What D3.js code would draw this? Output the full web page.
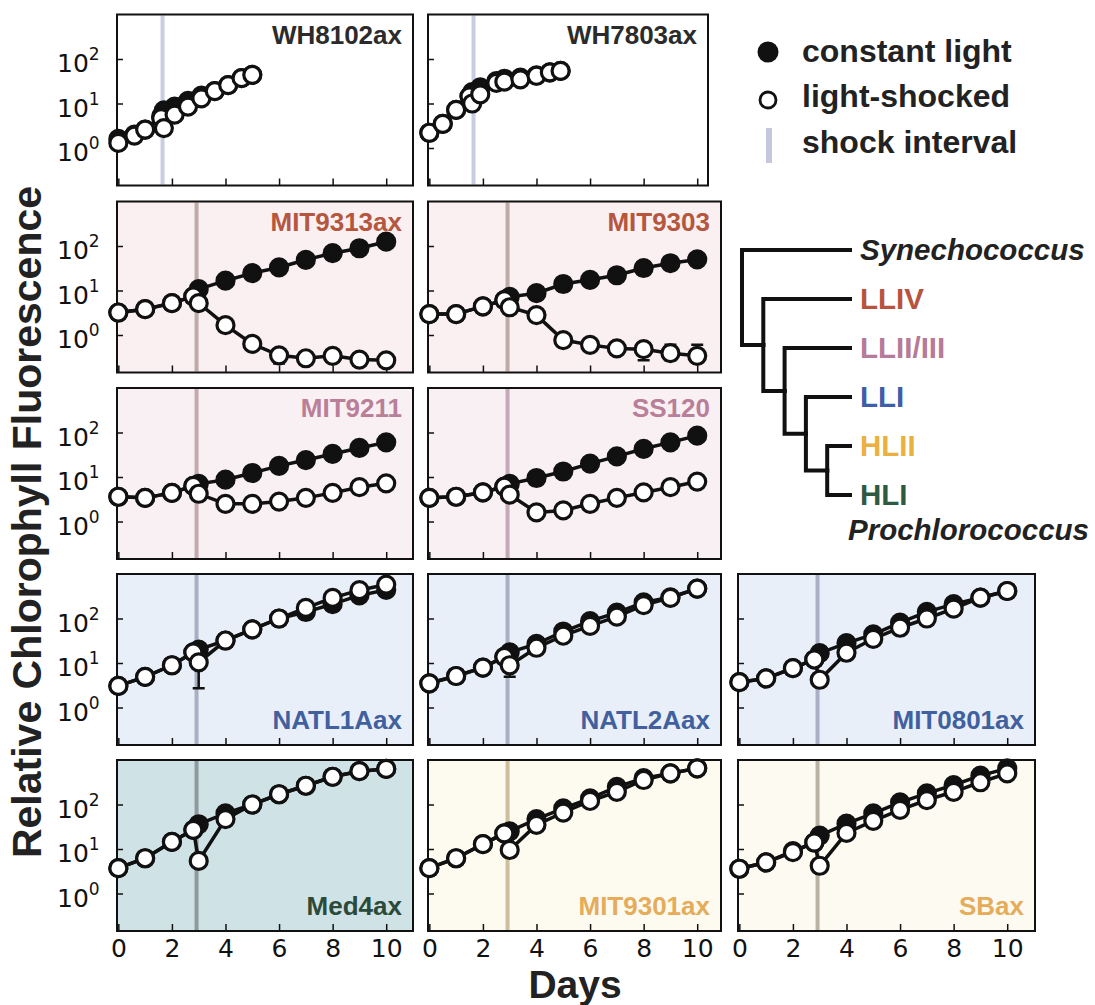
<!DOCTYPE html>
<html>
<head>
<meta charset="utf-8">
<script src="https://cdn.jsdelivr.net/npm/d3@7"></script>
<style>
	body { margin: 0; background: #fff; }
	text { font-family: "Liberation Sans", Arial, sans-serif; }
	.tick-num { font-family: "DejaVu Sans", sans-serif; }
</style>
</head>
<body>
<svg id="chart" width="1095" height="1005"></svg>
<script>
'use strict';

//Sampling days
var wh8102Days = [0, 0.6, 1.0, 1.6, 1.7, 2.1, 2.6, 3.1, 3.6, 4.1, 4.6, 5.0];
var wh7803Days = [0, 0.5, 1.0, 1.5, 1.6, 1.9, 2.5, 2.8, 3.4, 4.0, 4.5, 4.9];
var proDays = [0, 1, 2, 2.8, 3, 4, 5, 6, 7, 8, 9, 10];

//Relative chlorophyll fluorescence, constant light (filled) and light-shocked (open)
var wh8102Constant = [1.6, 2.0, 2.6, 5.2, 7.0, 8.5, 11.5, 15, 19, 26, 37, 44];
var wh8102Shocked  = [1.3, 1.9, 2.6, 4.7, 2.8, 5.6, 8.5, 13, 19, 26, 37, 44];
var wh7803Constant = [2.2, 3.5, 7.2, 14.5, 18, 23, 32, 36, 38, 43, 50, 54];
var wh7803Shocked  = [2.2, 3.5, 7.2, 14.5, 10, 16, 29, 31, 35, 42, 50, 54];
var mit9313Constant = [3.2, 3.8, 5.2, 7.4, 10.7, 16.6, 24.6, 33, 49, 69, 89, 125];
var mit9313Shocked  = [3.2, 3.8, 5.2, 7.4, 5.2, 1.66, 0.63, 0.35, 0.30, 0.34, 0.28, 0.27];
var mit9303Constant = [2.95, 2.95, 4.4, 6.1, 7.2, 8.7, 14, 17.4, 22, 32, 41, 50];
var mit9303Shocked  = [2.95, 2.95, 4.4, 6.1, 4.2, 2.8, 0.77, 0.60, 0.50, 0.48, 0.39, 0.34];
var mit9211Constant = [3.6, 3.4, 4.4, 6.3, 7.0, 8.7, 12.3, 17.8, 24, 33, 45, 60];
var mit9211Shocked  = [3.6, 3.4, 4.4, 6.3, 4.2, 2.5, 2.5, 2.8, 3.4, 4.4, 5.9, 7.2];
var ss120Constant = [3.4, 3.6, 4.5, 6.1, 7.0, 9.5, 13.3, 20, 29, 43, 60, 85];
var ss120Shocked  = [3.4, 3.6, 4.5, 6.1, 4.0, 1.6, 1.77, 2.5, 3.4, 4.5, 5.9, 7.9];
var natl1aConstant = [3.06, 4.9, 8.9, 17.4, 20, 32, 57, 100, 140, 210, 330, 440];
var natl1aShocked  = [3.06, 4.9, 8.9, 17.4, 10.3, 32, 57, 100, 173, 290, 433, 580];
var natl2aConstant = [3.5, 5.1, 7.9, 13.8, 17.4, 27, 51, 87, 135, 230, 300, 470];
var natl2aShocked  = [3.5, 5.1, 7.9, 13.8, 8.9, 22, 41, 68, 110, 200, 290, 470];
var mit0801Constant = [3.7, 4.5, 7.7, 12, 16.6, 28, 44, 81, 141, 210, 293, 415];
var mit0801Shocked  = [3.7, 4.5, 7.7, 12, 4.2, 17, 35, 62, 100, 166, 293, 415];
var med4Constant = [3.7, 6.2, 14.5, 27, 36, 63, 100, 170, 264, 420, 560, 630];
var med4Shocked  = [3.7, 6.2, 14.5, 27, 5.4, 47, 100, 170, 264, 420, 560, 630];
var mit9301Constant = [3.7, 6.2, 12.9, 22.5, 25, 47, 82, 138, 250, 390, 500, 650];
var mit9301Shocked  = [3.7, 6.2, 12.9, 22.5, 9.5, 35, 66, 120, 193, 355, 500, 650];
var sbConstant = [3.6, 5.0, 9.0, 14, 20, 37, 63, 112, 178, 274, 445, 650];
var sbShocked  = [3.6, 5.0, 8.5, 14, 4.2, 23, 43, 76, 126, 193, 316, 500];

//Error bars (day, low, high)
var errorBars = [
	{ strain: "MIT9313ax", series: "shocked", day: 6, lo: 0.23, hi: 0.42 },
	{ strain: "MIT9313ax", series: "shocked", day: 8, lo: 0.28, hi: 0.48 },
	{ strain: "MIT9303", series: "shocked", day: 8, lo: 0.27, hi: 0.6 },
	{ strain: "MIT9303", series: "shocked", day: 9, lo: 0.27, hi: 0.6 },
	{ strain: "MIT9303", series: "shocked", day: 10, lo: 0.24, hi: 0.6 },
	{ strain: "NATL1Aax", series: "shocked", day: 3, lo: 2.7, hi: 17 },
	{ strain: "NATL1Aax", series: "constant", day: 9, lo: 250, hi: 420 },
	{ strain: "NATL1Aax", series: "constant", day: 10, lo: 340, hi: 560 },
	{ strain: "NATL2Aax", series: "shocked", day: 3, lo: 4.9, hi: 12 }
];

//Shock times
var whShockDay = 1.65;
var proShockDay = 2.92;

//Axis ticks
var xTicks = [0, 2, 4, 6, 8, 10];
var yTickExps = [0, 1, 2];

//Tree of clades
var cladeTree = {
	children: [
		{ name: "Synechococcus" },
		{ children: [
			{ name: "LLIV" },
			{ children: [
				{ name: "LLII/III" },
				{ children: [
					{ name: "LLI" },
					{ children: [ { name: "HLII" }, { name: "HLI" } ] }
				] }
			] }
		] }
	]
};

//Panels
var panels = [
	{ strain: "WH8102ax", row: 0, col: 0, days: wh8102Days, constant: wh8102Constant, shocked: wh8102Shocked, shock: whShockDay },
	{ strain: "WH7803ax", row: 0, col: 1, days: wh7803Days, constant: wh7803Constant, shocked: wh7803Shocked, shock: whShockDay },
	{ strain: "MIT9313ax", row: 1, col: 0, days: proDays, constant: mit9313Constant, shocked: mit9313Shocked, shock: proShockDay },
	{ strain: "MIT9303", row: 1, col: 1, days: proDays, constant: mit9303Constant, shocked: mit9303Shocked, shock: proShockDay },
	{ strain: "MIT9211", row: 2, col: 0, days: proDays, constant: mit9211Constant, shocked: mit9211Shocked, shock: proShockDay },
	{ strain: "SS120", row: 2, col: 1, days: proDays, constant: ss120Constant, shocked: ss120Shocked, shock: proShockDay },
	{ strain: "NATL1Aax", row: 3, col: 0, days: proDays, constant: natl1aConstant, shocked: natl1aShocked, shock: proShockDay },
	{ strain: "NATL2Aax", row: 3, col: 1, days: proDays, constant: natl2aConstant, shocked: natl2aShocked, shock: proShockDay },
	{ strain: "MIT0801ax", row: 3, col: 2, days: proDays, constant: mit0801Constant, shocked: mit0801Shocked, shock: proShockDay },
	{ strain: "Med4ax", row: 4, col: 0, days: proDays, constant: med4Constant, shocked: med4Shocked, shock: proShockDay },
	{ strain: "MIT9301ax", row: 4, col: 1, days: proDays, constant: mit9301Constant, shocked: mit9301Shocked, shock: proShockDay },
	{ strain: "SBax", row: 4, col: 2, days: proDays, constant: sbConstant, shocked: sbShocked, shock: proShockDay }
];

//Styles
var panelStyle = {
	"WH8102ax":  { bg: "#ffffff", fg: "#2b2b2b", shock: "#c9cde2" },
	"WH7803ax":  { bg: "#ffffff", fg: "#2b2b2b", shock: "#c9cde2" },
	"MIT9313ax": { bg: "#faeff1", fg: "#b5563f", shock: "#bfaaa6" },
	"MIT9303":   { bg: "#faeff1", fg: "#b5563f", shock: "#bfaaa6" },
	"MIT9211":   { bg: "#f9f0f3", fg: "#b97f98", shock: "#c2aaae" },
	"SS120":     { bg: "#f9f0f3", fg: "#b97f98", shock: "#c2aab6" },
	"NATL1Aax":  { bg: "#e8eff8", fg: "#41609f", shock: "#a9b0c6" },
	"NATL2Aax":  { bg: "#e8eff8", fg: "#41609f", shock: "#a9b0c6" },
	"MIT0801ax": { bg: "#e8eff8", fg: "#41609f", shock: "#a9b0c6" },
	"Med4ax":    { bg: "#cfe3e6", fg: "#2c4a3a", shock: "#8f9a9c" },
	"MIT9301ax": { bg: "#fdfbef", fg: "#e5ac5c", shock: "#cdbf9c" },
	"SBax":      { bg: "#fdfbf1", fg: "#e5ac5c", shock: "#b8b2a4" }
};
var cladeColors = {
	"Synechococcus": "#222", "LLIV": "#b7543e", "LLII/III": "#b57b98",
	"LLI": "#3f5ea8", "HLII": "#eab042", "HLI": "#2e5a44"
};

var colLeft = [117, 428, 738];
var colRight = [413, 721, 1035];
var rowTop = [14.5, 201.5, 388, 574, 760];
var panelHeight = 171;
var scaleWidth = 296;

var svg = d3.select("#chart");

panels.forEach(function(p) {
	var style = panelStyle[p.strain];
	var left = colLeft[p.col];
	var right = (p.row == 0 && p.col == 1) ? 708 : colRight[p.col];
	var top = rowTop[p.row];
	var bottom = top + panelHeight;

	var x = d3.scaleLinear().domain([-0.05, 11]).range([left, left + scaleWidth]);
	var y = d3.scaleLog().domain([Math.pow(10, 3 - panelHeight / 44.5), 1000]).range([bottom, top]);

	var g = svg.append("g").attr("class", "panel");

	g.append("rect")
		.attr("x", left).attr("y", top)
		.attr("width", right - left).attr("height", panelHeight)
		.attr("fill", style.bg);

	//Shock interval
	g.append("line")
		.attr("x1", x(p.shock)).attr("x2", x(p.shock))
		.attr("y1", top + 1).attr("y2", bottom - 1)
		.attr("stroke", style.shock).attr("stroke-width", 4);

	//Axes with inward ticks
	var xAxis = d3.axisBottom(x).tickValues(xTicks).tickSizeInner(-7).tickSizeOuter(0).tickPadding(8)
		.tickFormat(p.row == 4 ? d3.format("d") : "");
	var xg = g.append("g").attr("transform", "translate(0," + bottom + ")").call(xAxis);
	xg.select(".domain").remove();
	xg.selectAll("line").attr("stroke", "#111").attr("stroke-width", 1.5);
	xg.selectAll("text").attr("class", "tick-num").attr("font-size", 25).attr("fill", "#111");

	var yAxis = d3.axisLeft(y).tickValues(yTickExps.map(function(e) { return Math.pow(10, e); }))
		.tickSizeInner(-6).tickSizeOuter(0).tickFormat("");
	var yg = g.append("g").attr("transform", "translate(" + left + ",0)").call(yAxis);
	yg.select(".domain").remove();
	yg.selectAll("line").attr("stroke", "#111").attr("stroke-width", 1.5);

	if(p.col == 0) {
		yTickExps.forEach(function(e) {
			var t = g.append("text").attr("class", "tick-num")
				.attr("x", 57).attr("y", y(Math.pow(10, e)) + 13)
				.attr("font-size", 25).attr("fill", "#111");
			t.append("tspan").text("10");
			t.append("tspan").attr("font-size", 17).attr("dy", -12).text(e);
		});
	}

	//Frame
	g.append("rect")
		.attr("x", left).attr("y", top)
		.attr("width", right - left).attr("height", panelHeight)
		.attr("fill", "none").attr("stroke", "#111").attr("stroke-width", 2);

	var line = d3.line()
		.x(function(d) { return x(d.day); })
		.y(function(d) { return y(d.value); });

	var drawSeries = function(values, filled, key) {
		var pts = values.map(function(v, i) { return { day: p.days[i], value: v }; });

		g.append("path").datum(pts)
			.attr("d", line)
			.attr("fill", "none").attr("stroke", "#111").attr("stroke-width", 3.5);

		errorBars.filter(function(e) { return e.strain == p.strain && e.series == key; })
			.forEach(function(e) {
				var ex = x(e.day);
				g.append("path")
					.attr("d", "M" + ex + "," + y(e.lo) + "V" + y(e.hi) +
						"M" + (ex - 6) + "," + y(e.lo) + "H" + (ex + 6) +
						"M" + (ex - 6) + "," + y(e.hi) + "H" + (ex + 6))
					.attr("stroke", "#111").attr("stroke-width", 2.5).attr("fill", "none");
			});

		g.selectAll(null).data(pts).enter().append("circle")
			.attr("cx", function(d) { return x(d.day); })
			.attr("cy", function(d) { return y(d.value); })
			.attr("r", 8.5)
			.attr("fill", filled ? "#111" : "#fff")
			.attr("stroke", "#111").attr("stroke-width", 3.2);
	};

	drawSeries(p.constant, true, "constant");
	drawSeries(p.shocked, false, "shocked");

	//Strain label
	g.append("text")
		.attr("x", right - 11)
		.attr("y", p.row < 3 ? top + 29 : bottom - 16)
		.attr("text-anchor", "end")
		.attr("font-size", 26).attr("font-weight", "bold")
		.attr("fill", style.fg)
		.text(p.strain);
});

//Axis titles
svg.append("text")
	.attr("transform", "translate(41,522) rotate(-90)")
	.attr("text-anchor", "middle")
	.attr("font-size", 41).attr("font-weight", "bold").attr("fill", "#222")
	.text("Relative Chlorophyll Fluorescence");

svg.append("text")
	.attr("x", 575).attr("y", 998)
	.attr("text-anchor", "middle")
	.attr("font-size", 39).attr("font-weight", "bold").attr("fill", "#222")
	.text("Days");

//Legend
var legend = svg.append("g");
legend.append("circle").attr("cx", 768).attr("cy", 52).attr("r", 10.5).attr("fill", "#111");
legend.append("circle").attr("cx", 768).attr("cy", 100).attr("r", 8).attr("fill", "#fff")
	.attr("stroke", "#111").attr("stroke-width", 2.8);
legend.append("rect").attr("x", 766).attr("y", 128).attr("width", 6).attr("height", 35)
	.attr("fill", "#c3c8df");
[["constant light", 62], ["light-shocked", 107], ["shock interval", 153]].forEach(function(l) {
	legend.append("text")
		.attr("x", 802).attr("y", l[1])
		.attr("font-size", 32).attr("font-weight", "bold").attr("fill", "#222")
		.text(l[0]);
});

//Clade tree
var root = d3.hierarchy(cladeTree);
var leafTop = 250, leafStep = 49, nodeX0 = 742, nodeStep = 21.3, leafX = 850;
var leafIndex = 0;
root.eachAfter(function(n) {
	if(!n.children) {
		n.py = leafTop + leafStep * leafIndex++;
		n.px = leafX;
	} else {
		n.py = (n.children[0].py + n.children[n.children.length - 1].py) / 2;
		n.px = nodeX0 + nodeStep * n.depth;
	}
});

var tree = svg.append("g");
tree.selectAll("path").data(root.links()).enter().append("path")
	.attr("d", function(l) {
		return "M" + l.source.px + "," + l.source.py + "V" + l.target.py + "H" + l.target.px;
	})
	.attr("fill", "none").attr("stroke", "#111").attr("stroke-width", 4)
	.attr("stroke-linecap", "square");

tree.selectAll("text").data(root.leaves()).enter().append("text")
	.attr("x", leafX + 10)
	.attr("y", function(d) { return d.py + 10; })
	.attr("font-size", 29.5).attr("font-weight", "bold")
	.attr("font-style", function(d) { return d.data.name == "Synechococcus" ? "italic" : null; })
	.attr("fill", function(d) { return cladeColors[d.data.name]; })
	.text(function(d) { return d.data.name; });

tree.append("text")
	.attr("x", 848).attr("y", 540)
	.attr("font-size", 29.5).attr("font-weight", "bold").attr("font-style", "italic")
	.attr("fill", "#222")
	.text("Prochlorococcus");
</script>
</body>
</html>
